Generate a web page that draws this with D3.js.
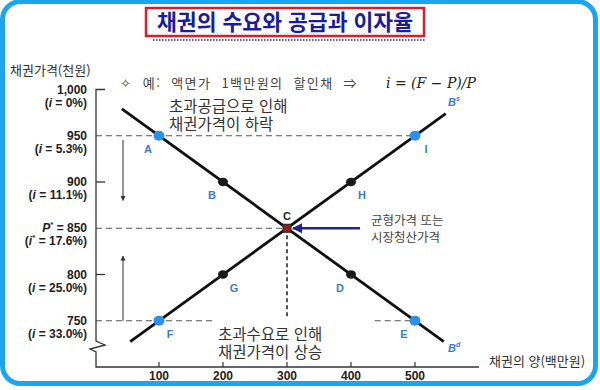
<!DOCTYPE html>
<html lang="ko">
<head>
    <meta charset="utf-8" />
    <script src="https://d3js.org/d3.v7.min.js"></script>
    <title>채권의 수요와 공급과 이자율</title>
    <style>
        body { margin: 0; background: #fff; }
        #wrap { position: relative; width: 600px; height: 390px; }
        svg text { font-family: 'Noto Sans CJK KR', sans-serif; }
        .num { font-family: 'Liberation Sans', Arial, sans-serif; font-weight: bold; }
        .note2 { position: absolute; font-family: 'Noto Sans CJK KR', sans-serif; white-space: nowrap; }
    </style>
</head>
<body>
    <div id="wrap">
        <svg id="chart" width="600" height="390"></svg>
    </div>

    <script>
        // 데이터
        var quantityTicks = [100, 200, 300, 400, 500];
        var priceTicks = [1000, 950, 900, 850, 800, 750];
        var rateLabels = ['0%', '5.3%', '11.1%', '17.6%', '25.0%', '33.0%'];

        var demandLabels = ['A', 'B', 'C', 'D', 'E'];
        var demandQty = [100, 200, 300, 400, 500];
        var demandPrice = [950, 900, 850, 800, 750];

        var supplyLabels = ['F', 'G', 'C', 'H', 'I'];
        var supplyQty = [100, 200, 300, 400, 500];
        var supplyPrice = [750, 800, 850, 900, 950];

        // 곡선 양 끝 (수량, 가격)
        var demandEnds = [[42, 979], [545, 727.5]];
        var supplyEnds = [[55, 727.5], [548, 974]];

        var svg = d3.select('#chart');

        var x = d3.scaleLinear().domain([0, 600]).range([95, 479]);
        var y = d3.scaleLinear().domain([700, 1000]).range([367, 89.5]);
        var x0 = 96, yBase = 367;

        var defs = svg.append('defs');
        defs.append('marker').attr('id', 'thin').attr('viewBox', '0 0 10 10')
            .attr('refX', 9).attr('refY', 5).attr('markerWidth', 5).attr('markerHeight', 6)
            .attr('orient', 'auto')
            .append('path').attr('d', 'M0,0L10,5L0,10z').attr('fill', '#333');
        defs.append('marker').attr('id', 'navy').attr('viewBox', '0 0 10 10')
            .attr('refX', 9).attr('refY', 5).attr('markerWidth', 4).attr('markerHeight', 4)
            .attr('orient', 'auto').attr('markerUnits', 'strokeWidth')
            .append('path').attr('d', 'M0,0L10,5L0,10z').attr('fill', '#1c2690');

        // 테두리
        svg.append('rect').attr('x', 2.5).attr('y', 1.5).attr('width', 593).attr('height', 382)
            .attr('rx', 18).attr('fill', 'none').attr('stroke', '#1ba5ea').attr('stroke-width', 5);

        // 제목
        svg.append('rect').attr('x', 146).attr('y', 8).attr('width', 278).attr('height', 28)
            .attr('fill', '#fff').attr('stroke', '#d8202a').attr('stroke-width', 2.5);
        svg.append('text').attr('x', 285).attr('y', 30).attr('text-anchor', 'middle')
            .attr('textLength', 256).attr('lengthAdjust', 'spacingAndGlyphs')
            .style('font-size', '22px').style('font-weight', 'bold').attr('fill', '#1b1b9c')
            .text('채권의 수요와 공급과 이자율');
        svg.append('line').attr('x1', 153).attr('x2', 425).attr('y1', 40).attr('y2', 40)
            .attr('stroke', '#2a2a9a').attr('stroke-width', 1.5).attr('stroke-dasharray', '1.5,1.5');

        // 축 제목
        svg.append('text').attr('x', 10).attr('y', 75).style('font-size', '13px').attr('fill', '#333')
            .text('채권가격(천원)');
        svg.append('text').attr('x', 489).attr('y', 366).style('font-size', '13px').attr('fill', '#333')
            .text('채권의 양(백만원)');

        // 예시 문구
        var note = svg.append('text').attr('x', 120).attr('y', 88).attr('fill', '#444').style('font-size', '13px')
            .style('letter-spacing', '1.4px').style('word-spacing', '5px');
        note.append('tspan').style('font-family', 'DejaVu Sans').text('✧ ');
        note.append('tspan').text('예: 액면가 1백만원의 할인채 ⇒');
        svg.append('text').attr('x', 386).attr('y', 88).attr('fill', '#222')
            .style('font-family', "'DejaVu Serif', serif").style('font-style', 'italic').style('font-size', '14px')
            .text('i = (F − P)/P');

        // 점선 보조선
        var dash = svg.append('g').attr('stroke', '#555').attr('stroke-width', 1.2).attr('stroke-dasharray', '6,4').attr('fill', 'none');
        dash.append('line').attr('x1', x0).attr('x2', x(500)).attr('y1', y(950)).attr('y2', y(950));
        dash.append('line').attr('x1', x0).attr('x2', x(300)).attr('y1', y(850)).attr('y2', y(850));
        dash.append('line').attr('x1', x0).attr('x2', x(183)).attr('y1', y(750)).attr('y2', y(750));
        dash.append('line').attr('x1', x(437)).attr('x2', x(500)).attr('y1', y(750)).attr('y2', y(750));
        svg.append('line').attr('x1', x(300)).attr('x2', x(300)).attr('y1', y(850)).attr('y2', y(752))
            .attr('stroke', '#555').attr('stroke-width', 2).attr('stroke-dasharray', '4,3');

        // y축 (물결 끊김 포함)
        svg.append('path')
            .attr('d', 'M' + (x0 + 9) + ',' + y(1000) + 'H' + x0 + 'V341L105,345L90,349L' + x0 + ',352V' + yBase + 'H479')
            .attr('fill', 'none').attr('stroke', '#333').attr('stroke-width', 1.3);
        [900, 800].forEach(function (p) {
            svg.append('line').attr('x1', x0).attr('x2', x0 + 9).attr('y1', y(p)).attr('y2', y(p))
                .attr('stroke', '#333').attr('stroke-width', 1.3);
        });

        // y축 눈금 라벨
        priceTicks.forEach(function (p, i) {
            var t = svg.append('text').attr('class', 'num').attr('x', 87).attr('y', y(p) + 4)
                .attr('text-anchor', 'end').style('font-size', '12px').attr('fill', '#222');
            if (p === 850) {
                t.append('tspan').style('font-style', 'italic').text('P');
                t.append('tspan').attr('dy', -5).style('font-size', '8px').text('*');
                t.append('tspan').attr('dy', 5).text(' = 850');
            } else {
                t.text(d3.format(',')(p));
            }
            var r = svg.append('text').attr('class', 'num').attr('x', 87).attr('y', y(p) + 17)
                .attr('text-anchor', 'end').style('font-size', '12px').attr('fill', '#222');
            r.append('tspan').text('(');
            r.append('tspan').style('font-style', 'italic').text('i');
            if (p === 850) {
                r.append('tspan').attr('dy', -5).style('font-size', '8px').text('*');
                r.append('tspan').attr('dy', 5).text(' = ' + rateLabels[i] + ')');
            } else {
                r.append('tspan').text(' = ' + rateLabels[i] + ')');
            }
        });

        // x축 눈금
        quantityTicks.forEach(function (q) {
            svg.append('line').attr('x1', x(q)).attr('x2', x(q)).attr('y1', yBase).attr('y2', yBase - 5)
                .attr('stroke', '#333').attr('stroke-width', 1.2);
            svg.append('text').attr('class', 'num').attr('x', x(q)).attr('y', yBase + 13)
                .attr('text-anchor', 'middle').style('font-size', '12px').attr('fill', '#222').text(q);
        });

        // 수요/공급 곡선
        var line = d3.line().x(function (d) { return x(d[0]); }).y(function (d) { return y(d[1]); });
        svg.append('path').attr('d', line(demandEnds)).attr('stroke', '#111').attr('stroke-width', 2.8).attr('fill', 'none');
        svg.append('path').attr('d', line(supplyEnds)).attr('stroke', '#111').attr('stroke-width', 2.8).attr('fill', 'none');

        // 화살표
        svg.append('line').attr('x1', 123).attr('x2', 123).attr('y1', y(950) + 4).attr('y2', y(880))
            .attr('stroke', '#333').attr('stroke-width', 1).attr('marker-end', 'url(#thin)');
        svg.append('line').attr('x1', 123).attr('x2', 123).attr('y1', y(750)).attr('y2', y(820))
            .attr('stroke', '#333').attr('stroke-width', 1).attr('marker-end', 'url(#thin)');
        svg.append('line').attr('x1', 360).attr('x2', x(300) + 6).attr('y1', y(850)).attr('y2', y(850))
            .attr('stroke', '#1c2690').attr('stroke-width', 2.5).attr('marker-end', 'url(#navy)');

        // 점과 라벨
        function drawPoints(qs, ps, labels, side) {
            qs.forEach(function (q, i) {
                if (labels[i] === 'C') return;
                var edge = (i === 0 || i === qs.length - 1);
                svg.append('ellipse').attr('cx', x(q)).attr('cy', y(ps[i]))
                    .attr('rx', edge ? 5.5 : 5).attr('ry', edge ? 5 : 4.2)
                    .attr('fill', edge ? '#2b90e6' : '#1a1a1a');
                svg.append('text').attr('class', 'num').attr('x', x(q) + side * 11).attr('y', y(ps[i]) + 17)
                    .attr('text-anchor', 'middle').style('font-size', '11px').attr('fill', '#3a7cc8')
                    .text(labels[i]);
            });
        }
        drawPoints(demandQty, demandPrice, demandLabels, -1);
        drawPoints(supplyQty, supplyPrice, supplyLabels, 1);

        svg.append('rect').attr('x', x(300) - 4).attr('y', y(850) - 4).attr('width', 8).attr('height', 8)
            .attr('fill', '#9a1b1b').attr('stroke', '#222').attr('stroke-width', 1);
        svg.append('text').attr('class', 'num').attr('x', x(300)).attr('y', y(850) - 8)
            .attr('text-anchor', 'middle').style('font-size', '11px').attr('fill', '#222').text('C');

        // 곡선 이름
        function curveName(px, py, sup) {
            var t = svg.append('text').attr('class', 'num').attr('x', px).attr('y', py)
                .style('font-size', '11px').style('font-style', 'italic').attr('fill', '#3a7cc8');
            t.append('tspan').text('B');
            t.append('tspan').attr('dy', -5).style('font-size', '7px').text(sup);
        }
        curveName(448, 106, 's');
        curveName(448, 352, 'd');

        // 설명 문구: 두 줄짜리는 HTML로 (줄 간격 고정)
        function twoLines(left, top, a, b, size, gap, color) {
            d3.select('#wrap').append('div').attr('class', 'note2')
                .style('left', left + 'px').style('top', top + 'px')
                .style('font-size', size + 'px').style('line-height', gap + 'px').style('color', color)
                .html(a + '<br>' + b);
        }
        twoLines(169, 96, '초과공급으로 인해', '채권가격이 하락', 15.5, 18, '#333');
        twoLines(218, 324, '초과수요로 인해', '채권가격이 상승', 15.5, 18, '#333');
        twoLines(371, 211, '균형가격 또는', '시장청산가격', 12.5, 17, '#444');
    </script>
</body>
</html>
